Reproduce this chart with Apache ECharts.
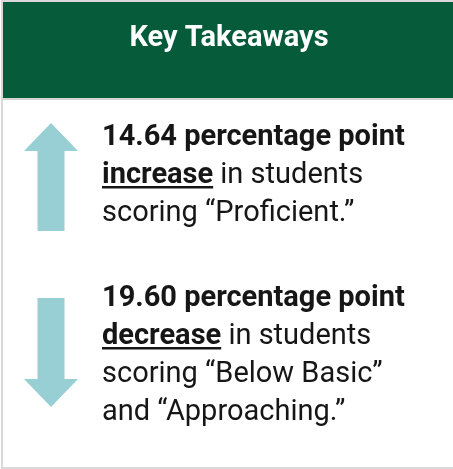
<!DOCTYPE html>
<html>
<head>
    <meta charset="utf-8">
    <script src="https://cdn.jsdelivr.net/npm/echarts@6/dist/echarts.min.js"></script>
    <style>
        html, body { margin: 0; padding: 0; background: #fff; }
    </style>
</head>
<body>
<div id="main" style="width: 453px;height:469px;"></div>
<script type="text/javascript">
    // data
    var title = 'Key Takeaways';
    var changeValues = [14.64, 19.60];
    var changeWords = ['increase', 'decrease'];
    var changeDirs = ['up', 'down'];
    var tailLines = [
        ['scoring \u201cProficient.\u201d'],
        ['scoring \u201cBelow Basic\u201d', 'and \u201cApproaching.\u201d']
    ];

    var myChart = echarts.init(document.getElementById('main'));

    var fontFamily = 'Roboto';
    var fontSize = 29;
    var lineH = 38;
    var textX = 102;
    var blockTop = [146, 307];   // baseline of first line of each block
    var arrowSpan = [[123, 231], [298, 407]];
    var arrowColor = '#97cfd4';
    var inkColor = '#161616';

    var ctx = document.createElement('canvas').getContext('2d');
    function textWidth(str, bold) {
        ctx.font = (bold ? 'bold ' : '') + fontSize + 'px ' + fontFamily;
        return ctx.measureText(str).width;
    }

    var elements = [];
    // card frame
    elements.push({
        type: 'rect',
        shape: { x: 2, y: 1, width: 470, height: 467 },
        style: { fill: '#fff', stroke: '#d9d9d9', lineWidth: 2 }
    });
    // header band
    elements.push({
        type: 'rect',
        shape: { x: 3, y: 2, width: 470, height: 96 },
        style: { fill: '#065b3a' }
    });
    elements.push({
        type: 'rect',
        shape: { x: 3, y: 98, width: 470, height: 2 },
        style: { fill: '#d4d4d4' }
    });
    elements.push({
        type: 'text',
        x: 229, y: 39,
        style: {
            text: title, fill: '#fff',
            font: 'bold 29px ' + fontFamily,
            align: 'center', verticalAlign: 'middle'
        }
    });

    function arrow(dir, top, bottom) {
        var cx = 51, headHalf = 27, shaftHalf = 13.5, headLen = 28;
        var pts;
        if (dir === 'up') {
            pts = [[cx, top], [cx + headHalf, top + headLen], [cx + shaftHalf, top + headLen],
                [cx + shaftHalf, bottom], [cx - shaftHalf, bottom], [cx - shaftHalf, top + headLen],
                [cx - headHalf, top + headLen]];
        } else {
            pts = [[cx, bottom], [cx + headHalf, bottom - headLen], [cx + shaftHalf, bottom - headLen],
                [cx + shaftHalf, top], [cx - shaftHalf, top], [cx - shaftHalf, bottom - headLen],
                [cx - headHalf, bottom - headLen]];
        }
        return { type: 'polygon', shape: { points: pts }, style: { fill: arrowColor } };
    }

    function line(str, x, baseline, bold) {
        return {
            type: 'text', x: x, y: baseline,
            style: {
                text: str, fill: inkColor,
                font: (bold ? 'bold ' : '') + fontSize + 'px ' + fontFamily,
                align: 'left', verticalAlign: 'bottom'
            }
        };
    }

    for (var i = 0; i < changeValues.length; i++) {
        elements.push(arrow(changeDirs[i], arrowSpan[i][0], arrowSpan[i][1]));
        var b = blockTop[i] + 6;
        elements.push(line(changeValues[i].toFixed(2) + ' percentage point', textX, b, true));
        var w = textWidth(changeWords[i], true);
        elements.push(line(changeWords[i], textX, b + lineH, true));
        elements.push({
            type: 'rect',
            shape: { x: textX, y: b + lineH - 4, width: w, height: 2.5 },
            style: { fill: inkColor }
        });
        elements.push(line(' in students', textX + w, b + lineH, false));
        for (var j = 0; j < tailLines[i].length; j++) {
            elements.push(line(tailLines[i][j], textX, b + lineH * (j + 2), false));
        }
    }

    var option = {
        animation: false,
        graphic: { elements: elements }
    };
    myChart.setOption(option);
</script>
</body>
</html>
